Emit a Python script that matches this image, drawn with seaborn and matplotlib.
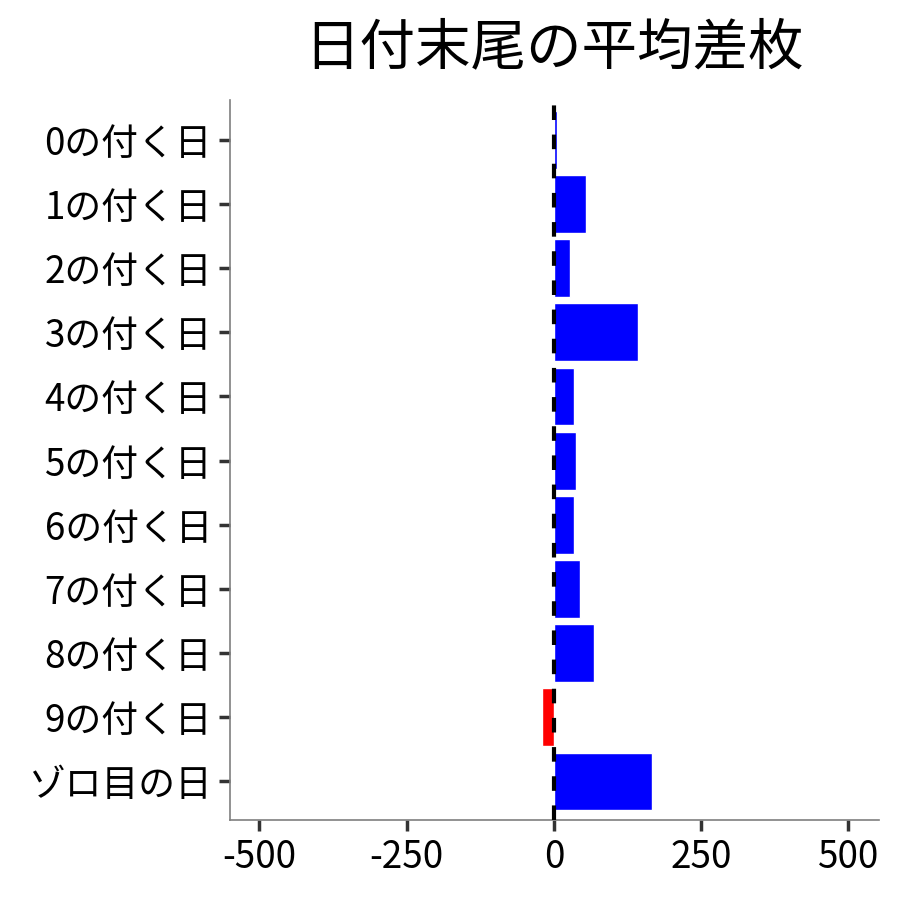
import matplotlib
matplotlib.use("Agg")
import matplotlib.pyplot as plt
import seaborn as sns
import pandas as pd

# 日付末尾ごとの平均差枚
categories = ['0の付く日', '1の付く日', '2の付く日', '3の付く日', '4の付く日',
              '5の付く日', '6の付く日', '7の付く日', '8の付く日', '9の付く日', 'ゾロ目の日']
values = [5, 54, 27, 143, 34, 37, 34, 44, 68, -20, 167]
x_ticks = [-500, -250, 0, 250, 500]

df = pd.DataFrame({'category': categories, 'value': values})
df['sign'] = ['plus' if v >= 0 else 'minus' for v in df['value']]

sns.set_theme(style='white')
plt.rcParams['font.family'] = ['Noto Sans CJK JP', 'DejaVu Sans']

fig = plt.figure(figsize=(9, 9), dpi=100)
ax = fig.add_axes([0.2556, 0.0889, 0.721, 0.8])

sns.barplot(data=df, y='category', x='value', hue='sign', order=categories,
            palette={'plus': '#0000FF', 'minus': '#FF0000'}, width=0.9,
            dodge=False, legend=False, saturation=1, ax=ax)

ax.axvline(0, color='black', linestyle=(0, (3.5, 3.5)), linewidth=3, zorder=5)

ax.set_xlim(-550, 552)
ax.set_ylim(len(categories) - 0.4, -0.62)
ax.set_xticks(x_ticks)
ax.set_xticklabels([str(t) for t in x_ticks])
ax.set_xlabel('')
ax.set_ylabel('')
ax.set_title('日付末尾の平均差枚', fontsize=40, pad=26, color='black')

for side in ['top', 'right']:
    ax.spines[side].set_visible(False)
for side in ['left', 'bottom']:
    ax.spines[side].set_color('#7f7f7f')
    ax.spines[side].set_linewidth(1.2)

ax.tick_params(axis='both', which='major', length=8, width=2.5, color='#333333',
               labelsize=26.5, labelcolor='black', pad=5)
ax.tick_params(axis='x', bottom=True)
ax.tick_params(axis='y', left=True)
ax.grid(False)

fig.savefig('out.png', dpi=100)
